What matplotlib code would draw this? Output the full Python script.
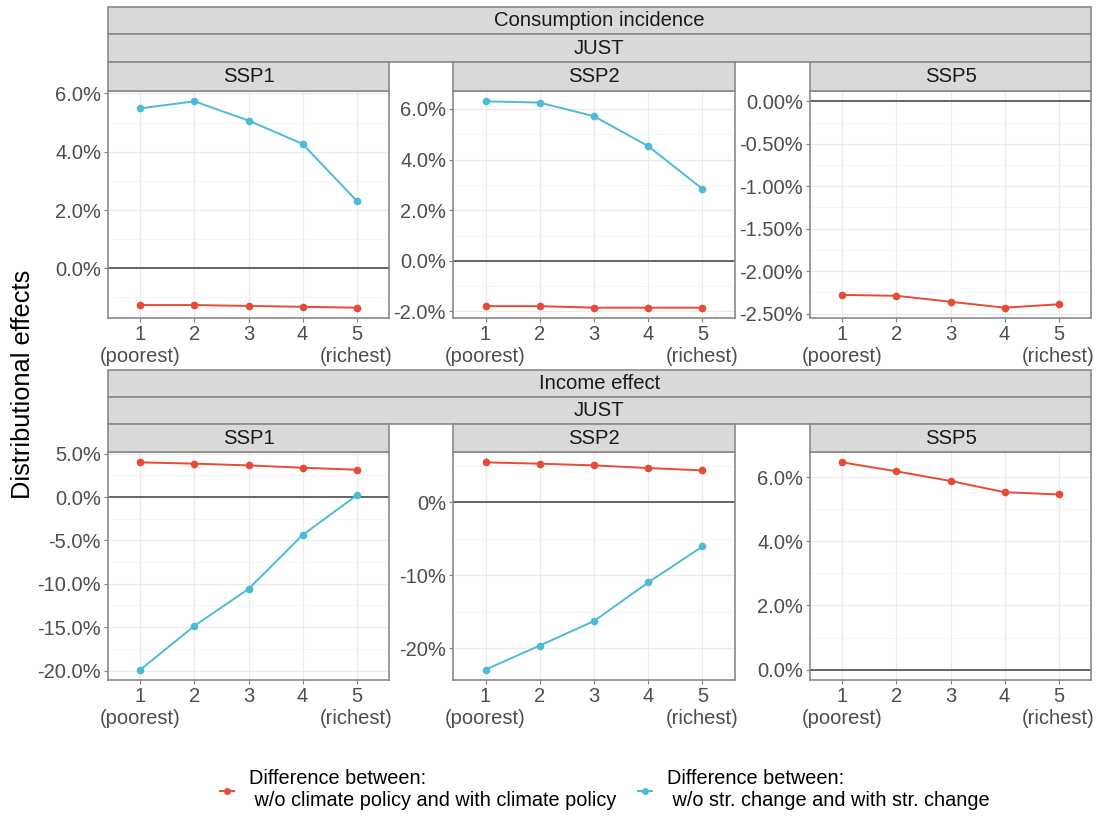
import matplotlib.pyplot as plt
from matplotlib.patches import Rectangle
from matplotlib.lines import Line2D
from matplotlib.ticker import MultipleLocator, FuncFormatter, NullFormatter

plt.rcParams['font.family'] = ['Liberation Sans', 'DejaVu Sans']

W, H = 1101, 816

quintiles = [1, 2, 3, 4, 5]
quintile_labels = ['1\n(poorest)', '2', '3', '4', '5\n(richest)']
scenarios = ['SSP1', 'SSP2', 'SSP5']

# consumption incidence, in %
cons_policy_ssp1 = [-1.26, -1.26, -1.29, -1.32, -1.35]
cons_struct_ssp1 = [5.49, 5.73, 5.07, 4.27, 2.32]
cons_policy_ssp2 = [-1.79, -1.79, -1.85, -1.85, -1.85]
cons_struct_ssp2 = [6.30, 6.25, 5.71, 4.53, 2.84]
cons_policy_ssp5 = [-2.28, -2.29, -2.36, -2.43, -2.39]

# income effect, in %
inc_policy_ssp1 = [4.00, 3.85, 3.65, 3.38, 3.15]
inc_struct_ssp1 = [-19.9, -14.85, -10.6, -4.38, 0.19]
inc_policy_ssp2 = [5.48, 5.30, 5.07, 4.70, 4.38]
inc_struct_ssp2 = [-22.9, -19.6, -16.25, -10.96, -6.03]
inc_policy_ssp5 = [6.46, 6.18, 5.88, 5.53, 5.46]

policy_label = 'Difference between:\n w/o climate policy and with climate policy'
struct_label = 'Difference between:\n w/o str. change and with str. change'

RED = '#E64B35'
BLUE = '#4DBBD5'
BORDER = '#8a8a8a'
STRIP = '#D9D9D9'


def rect(x0, y0, x1, y1):
    return [x0 / W, 1 - y1 / H, (x1 - x0) / W, (y1 - y0) / H]


def strip(fig, x0, y0, x1, y1, text):
    fig.add_artist(Rectangle((x0 / W, 1 - y1 / H), (x1 - x0) / W, (y1 - y0) / H,
                             transform=fig.transFigure, fc=STRIP, ec=BORDER, lw=1.2))
    fig.text((x0 + x1) / 2 / W, 1 - (y0 + y1) / 2 / H, text, ha='center', va='center',
             fontsize=14.6, color='#1A1A1A')


def panel(ax, policy, struct, step, decimals):
    ax.axhline(0, color='#5a5a5a', lw=1.3, zorder=2)
    vals = list(policy) + [0]
    if struct is not None:
        ax.plot(quintiles, struct, color=BLUE, lw=1.4, marker='o', ms=4.5, zorder=3)
        vals += list(struct)
    ax.plot(quintiles, policy, color=RED, lw=1.4, marker='o', ms=4.5, zorder=3)
    lo, hi = min(vals), max(vals)
    pad = (hi - lo) * 0.05
    ax.set_ylim(lo - pad, hi + pad)
    ax.set_xlim(0.4, 5.6)

    def fmt(v, p):
        if abs(v) < 1e-9:
            v = 0.0
        return f'{v:.{decimals}f}%'

    ax.yaxis.set_major_locator(MultipleLocator(step))
    ax.yaxis.set_minor_locator(MultipleLocator(step / 2))
    ax.yaxis.set_major_formatter(FuncFormatter(fmt))
    ax.yaxis.set_minor_formatter(NullFormatter())
    ax.set_xticks(quintiles, quintile_labels)
    ax.grid(which='major', color='#EBEBEB', lw=0.9)
    ax.grid(which='minor', axis='y', color='#F5F5F5', lw=0.6)
    ax.set_axisbelow(True)
    ax.tick_params(which='minor', length=0)
    ax.tick_params(which='major', length=3, width=0.8, color='#7f7f7f',
                   labelsize=14.5, labelcolor='#4D4D4D', pad=2)
    for s in ax.spines.values():
        s.set_color(BORDER)
        s.set_linewidth(1.2)


fig = plt.figure(figsize=(W / 100, H / 100), dpi=100)

cols = [(108, 389), (453, 735), (810, 1091)]

# top block: consumption incidence
top_data = [(cons_policy_ssp1, cons_struct_ssp1, 2, 1),
            (cons_policy_ssp2, cons_struct_ssp2, 2, 1),
            (cons_policy_ssp5, None, 0.5, 2)]
strip(fig, 108, 7, 1091, 34, 'Consumption incidence')
strip(fig, 108, 34, 1091, 62, 'JUST')
for (x0, x1), name, (pol, st, step, dec) in zip(cols, scenarios, top_data):
    strip(fig, x0, 62, x1, 91, name)
    ax = fig.add_axes(rect(x0, 91, x1, 318))
    panel(ax, pol, st, step, dec)

# bottom block: income effect
bot_data = [(inc_policy_ssp1, inc_struct_ssp1, 5, 1),
            (inc_policy_ssp2, inc_struct_ssp2, 10, 0),
            (inc_policy_ssp5, None, 2, 1)]
strip(fig, 108, 370, 1091, 397, 'Income effect')
strip(fig, 108, 397, 1091, 424, 'JUST')
for (x0, x1), name, (pol, st, step, dec) in zip(cols, scenarios, bot_data):
    strip(fig, x0, 424, x1, 452, name)
    ax = fig.add_axes(rect(x0, 452, x1, 680))
    panel(ax, pol, st, step, dec)

fig.text(23 / W, 1 - 384 / H, 'Distributional effects', rotation=90,
         ha='center', va='center', fontsize=18.3, color='black')

handles = [Line2D([], [], color=RED, lw=1.4, marker='o', ms=4),
           Line2D([], [], color=BLUE, lw=1.4, marker='o', ms=4)]
fig.legend(handles, [policy_label, struct_label], loc='center', ncol=2,
           bbox_to_anchor=(605 / W, 1 - 790 / H), frameon=False, fontsize=14.3,
           handlelength=0.7, handletextpad=0.75, columnspacing=1.1)

fig.savefig('out.png', dpi=100)
